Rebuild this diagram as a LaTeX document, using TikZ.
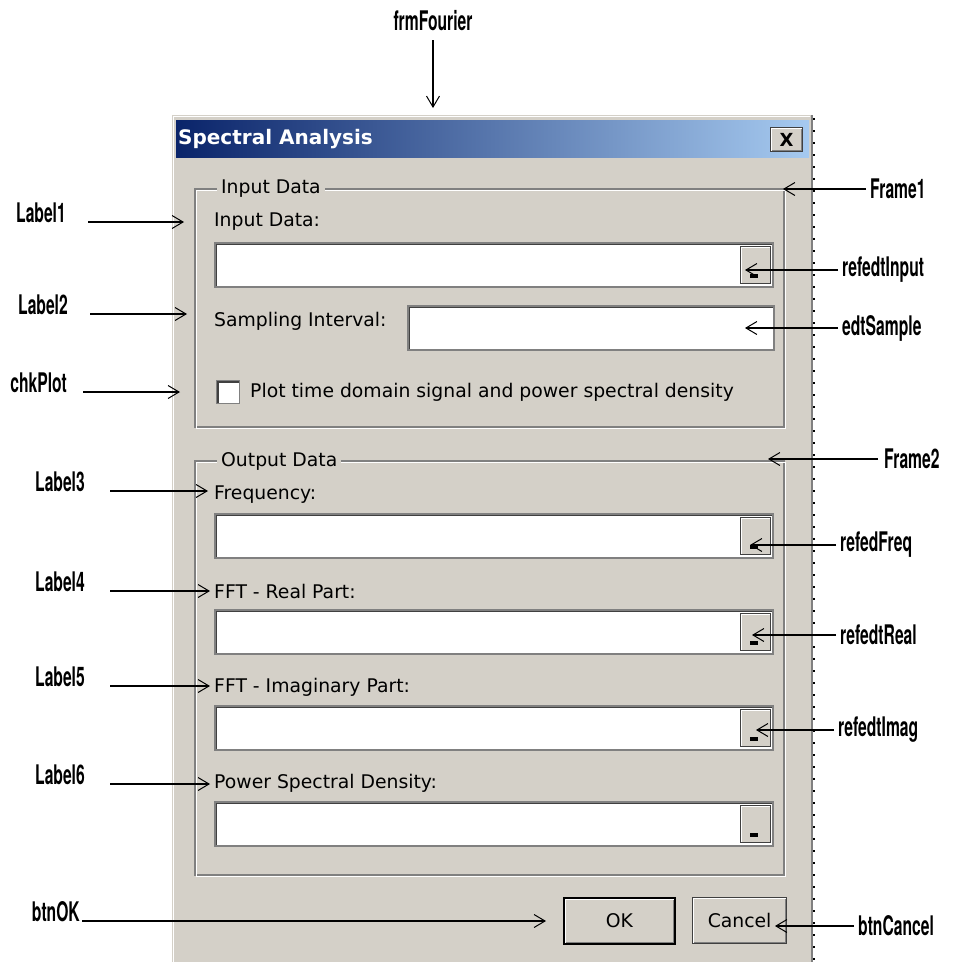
\documentclass[tikz,border=0pt]{standalone}
\usepackage{fontspec}
\usepackage{tikz}
\usetikzlibrary{arrows.meta, positioning}

\newfontfamily\guifont{DejaVu Sans}
\newfontfamily\annfont[FakeStretch=0.58]{TeX Gyre Heros}

\definecolor{winbg}{HTML}{D4D0C8}
\definecolor{winshadow}{HTML}{808080}
\definecolor{windark}{HTML}{404040}
\definecolor{titleL}{HTML}{0A246A}
\definecolor{titleR}{HTML}{A6CAF0}

\begin{document}
\begin{tikzpicture}[x=1pt, y=-1pt,
        % STYLES
        guitext/.style={font=\guifont\fontsize{18.8}{22}\selectfont, inner sep=0pt, anchor=west},
        caption/.style={guitext, fill=winbg, inner xsep=4pt, inner ysep=2pt},
        annot/.style={font=\annfont\bfseries\fontsize{27}{30}\selectfont, inner sep=0pt},
        editbox/.style={rectangle, fill=white, draw=winshadow, line width=1.5pt, minimum height=44pt, anchor=north west,
            path picture={\draw[windark, line width=5pt] (path picture bounding box.south west) -- (path picture bounding box.north west) -- (path picture bounding box.north east);}},
        refbtn/.style={rectangle, fill=winbg, draw=windark, line width=1pt, minimum width=30pt, minimum height=37pt, anchor=east,
            path picture={\draw[white, line width=3pt] (path picture bounding box.south west) -- (path picture bounding box.north west) -- (path picture bounding box.north east);
                \fill[black] ([shift={(-5pt,5pt)}]path picture bounding box.south) rectangle ++(8pt,4pt);}},
        raisedbtn/.style={rectangle, fill=winbg, draw=windark, line width=1.2pt, anchor=north west, font=\guifont\fontsize{18.8}{22}\selectfont,
            path picture={\draw[winshadow, line width=4pt] (path picture bounding box.south west) -- (path picture bounding box.south east) -- (path picture bounding box.north east);
                \draw[white, line width=3pt] (path picture bounding box.south west) -- (path picture bounding box.north west) -- (path picture bounding box.north east);}},
        checkbox/.style={rectangle, fill=white, draw=winshadow, line width=1.2pt, minimum size=23pt, anchor=north west,
            path picture={\draw[windark, line width=4pt] (path picture bounding box.south west) -- (path picture bounding box.north west) -- (path picture bounding box.north east);}},
        etchdark/.style={draw=winshadow, line width=1.2pt},
        etchlight/.style={draw=white, line width=1.2pt},
        % ARROWS
        callout/.style={-{Straight Barb[length=11pt, width=13pt, line width=1pt]}, line width=1.7pt, black}
    ]
    \useasboundingbox (0,0) rectangle (954,962);

    % ===================================
    % 1. Dialog window
    % ===================================
    \fill[winbg] (172,115) rectangle (812,962);
    \draw[white, line width=1.5pt] (173.5,962) -- (173.5,116.5) -- (810,116.5);
    \draw[winshadow, line width=2pt] (812,115) -- (812,962);
    \draw[black, line width=2pt, dash pattern=on 2pt off 10pt] (814,118) -- (814,962);

    % --- Title bar ---
    \shade[left color=titleL, right color=titleR] (176,120) rectangle (809,157);
    \node[guitext, font=\guifont\bfseries\fontsize{20}{24}\selectfont, text=white] (title) at (178,139) {Spectral Analysis};
    \node[raisedbtn, minimum width=32pt, minimum height=24pt, font=\guifont\bfseries\fontsize{18}{20}\selectfont] (btnClose) at (770,127) {X};

    % ===================================
    % 2. Input Data frame
    % ===================================
    \draw[etchdark] (195,189) rectangle (784,427);
    \draw[etchlight] (196.5,190.5) rectangle (785.5,428.5);
    \node[caption] (capInput) at (217,189) {Input Data};

    \node[guitext] (lblInput) at (214,222) {Input Data:};
    \node[editbox, minimum width=558pt] (boxInput) at (214,242) {};
    \node[refbtn] (btnInput) at ([xshift=-3pt]boxInput.east) {};

    \node[guitext] (lblSample) at (214,321) {Sampling Interval:};
    \node[editbox, minimum width=366pt] (boxSample) at (407,305) {};

    \node[checkbox] (chkBox) at (216,380) {};
    \node[guitext] (lblPlot) at (250,392) {Plot time domain signal and power spectral density};

    % ===================================
    % 3. Output Data frame
    % ===================================
    \draw[etchdark] (195,461) rectangle (784,875);
    \draw[etchlight] (196.5,462.5) rectangle (785.5,876.5);
    \node[caption] (capOutput) at (217,461) {Output Data};

    \node[guitext] (lblFreq) at (214,495) {Frequency:};
    \node[editbox, minimum width=558pt] (boxFreq) at (214,513) {};
    \node[refbtn] (btnFreq) at ([xshift=-3pt]boxFreq.east) {};

    \node[guitext] (lblReal) at (214,591) {FFT - Real Part:};
    \node[editbox, minimum width=558pt] (boxReal) at (214,609) {};
    \node[refbtn] (btnReal) at ([xshift=-3pt]boxReal.east) {};

    \node[guitext] (lblImag) at (214,687) {FFT - Imaginary Part:};
    \node[editbox, minimum width=558pt] (boxImag) at (214,705) {};
    \node[refbtn] (btnImag) at ([xshift=-3pt]boxImag.east) {};

    \node[guitext] (lblPSD) at (214,783) {Power Spectral Density:};
    \node[editbox, minimum width=558pt] (boxPSD) at (214,801) {};
    \node[refbtn] (btnPSD) at ([xshift=-3pt]boxPSD.east) {};

    % --- Buttons ---
    \node[raisedbtn, draw=black, line width=2pt, minimum width=111pt, minimum height=46pt] (btnOK) at (563,897) {OK};
    \node[raisedbtn, minimum width=94pt, minimum height=46pt] (btnCancel) at (692,897) {Cancel};

    % ===================================
    % 4. Control names (callouts)
    % ===================================
    \node[annot, anchor=base] (frm) at (433,30) {frmFourier};
    \coordinate (tForm) at (433,108);
    \draw[callout, line width=1.3pt] ([yshift=-10pt]frm.base) -- (tForm);

    % left side
    \node[annot, anchor=base east] (lab1) at (66,222) {Label1};
    \node[annot, anchor=base east] (lab2) at (68,314) {Label2};
    \node[annot, anchor=base east] (chk) at (67,392) {chkPlot};
    \node[annot, anchor=base east] (lab3) at (85,491) {Label3};
    \node[annot, anchor=base east] (lab4) at (85,591) {Label4};
    \node[annot, anchor=base east] (lab5) at (85,686) {Label5};
    \node[annot, anchor=base east] (lab6) at (85,784) {Label6};
    \node[annot, anchor=base east] (ok) at (80,921) {btnOK};

    \coordinate (tLab1) at (184,222);
    \coordinate (tLab2) at (187,314);
    \coordinate (tChk) at (180,392);
    \coordinate (tLab3) at (208,491);
    \coordinate (tLab4) at (210,591);
    \coordinate (tLab5) at (210,686);
    \coordinate (tLab6) at (210,784);
    \coordinate (tOK) at (546,921);

    \draw[callout] ([xshift=22pt]lab1.base east) -- (tLab1);
    \draw[callout] ([xshift=22pt]lab2.base east) -- (tLab2);
    \draw[callout] ([xshift=16pt]chk.base east) -- (tChk);
    \draw[callout] ([xshift=25pt]lab3.base east) -- (tLab3);
    \draw[callout] ([xshift=25pt]lab4.base east) -- (tLab4);
    \draw[callout] ([xshift=25pt]lab5.base east) -- (tLab5);
    \draw[callout] ([xshift=25pt]lab6.base east) -- (tLab6);
    \draw[callout] ([xshift=2pt]ok.base east) -- (tOK);

    % right side
    \node[annot, anchor=west] (fr1) at (870,189) {Frame1};
    \node[annot, anchor=west] (inp) at (842,270) {refedtInput};
    \node[annot, anchor=west] (smp) at (842,328) {edtSample};
    \node[annot, anchor=west] (fr2) at (884,459) {Frame2};
    \node[annot, anchor=west] (frq) at (840,545) {refedFreq};
    \node[annot, anchor=west] (rea) at (840,635) {refedtReal};
    \node[annot, anchor=west] (img) at (838,730) {refedtImag};
    \node[annot, anchor=west] (cnc) at (858,926) {btnCancel};

    \coordinate (tFr1) at (783,189);
    \coordinate (tInp) at (745,270);
    \coordinate (tSmp) at (745,328);
    \coordinate (tFr2) at (768,459);
    \coordinate (tFrq) at (750,545);
    \coordinate (tRea) at (752,635);
    \coordinate (tImg) at (756,730);
    \coordinate (tCnc) at (775,926);

    \draw[callout] ([xshift=-4pt]fr1.west) -- (tFr1);
    \draw[callout] ([xshift=-4pt]inp.west) -- (tInp);
    \draw[callout] ([xshift=-4pt]smp.west) -- (tSmp);
    \draw[callout] ([xshift=-6pt]fr2.west) -- (tFr2);
    \draw[callout] ([xshift=-4pt]frq.west) -- (tFrq);
    \draw[callout] ([xshift=-4pt]rea.west) -- (tRea);
    \draw[callout] ([xshift=-4pt]img.west) -- (tImg);
    \draw[callout] ([xshift=-4pt]cnc.west) -- (tCnc);

\end{tikzpicture}
\end{document}
